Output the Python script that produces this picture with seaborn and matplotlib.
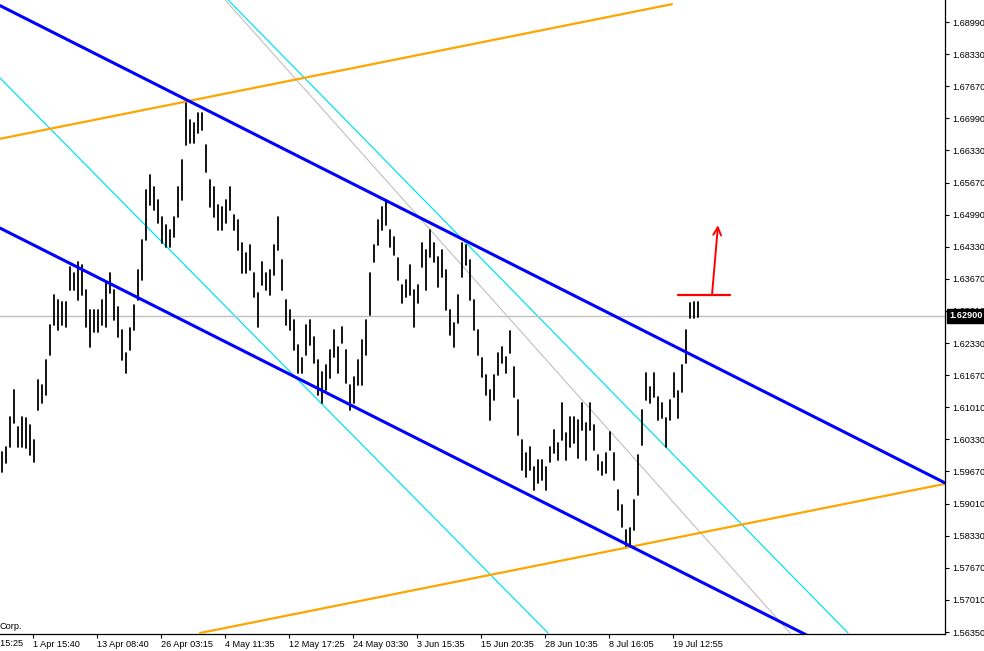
import numpy as np
import pandas as pd
import matplotlib
matplotlib.use("Agg")
import matplotlib.pyplot as plt
import seaborn as sns

# ---------------- data ----------------
highs = [1.6008, 1.6018, 1.6081, 1.6137, 1.6060, 1.6081, 1.6078, 1.6064, 1.6033, 1.6157,
         1.6147, 1.6199, 1.6271, 1.6333, 1.6323, 1.6319, 1.6319, 1.6391, 1.6379, 1.6402,
         1.6396, 1.6344, 1.6302, 1.6302, 1.6302, 1.6323, 1.6358, 1.6379, 1.6344, 1.6309,
         1.6261, 1.6213, 1.6265, 1.6313, 1.6385, 1.6447, 1.6551, 1.6582, 1.6557, 1.6530,
         1.6495, 1.6478, 1.6468, 1.6495, 1.6557, 1.6613, 1.6737, 1.6696, 1.6690, 1.6710,
         1.6710, 1.6644, 1.6572, 1.6557, 1.6520, 1.6516, 1.6530, 1.6557, 1.6499, 1.6489,
         1.6441, 1.6420, 1.6437, 1.6379, 1.6338, 1.6402, 1.6379, 1.6385, 1.6437, 1.6495,
         1.6406, 1.6323, 1.6302, 1.6282, 1.6230, 1.6203, 1.6271, 1.6282, 1.6246, 1.6199,
         1.6174, 1.6188, 1.6219, 1.6261, 1.6226, 1.6267, 1.6219, 1.6147, 1.6163, 1.6199,
         1.6240, 1.6282, 1.6379, 1.6437, 1.6489, 1.6516, 1.6530, 1.6468, 1.6454, 1.6410,
         1.6354, 1.6364, 1.6396, 1.6344, 1.6354, 1.6441, 1.6427, 1.6468, 1.6441, 1.6412,
         1.6427, 1.6385, 1.6302, 1.6275, 1.6333, 1.6441, 1.6437, 1.6406, 1.6323, 1.6261,
         1.6203, 1.6168, 1.6137, 1.6168, 1.6213, 1.6226, 1.6205, 1.6259, 1.6184, 1.6116,
         1.6033, 1.6006, 1.6018, 1.5977, 1.5991, 1.5991, 1.5977, 1.6018, 1.6054, 1.6027,
         1.6110, 1.6047, 1.6081, 1.6081, 1.6074, 1.6110, 1.6068, 1.6110, 1.6064, 1.6002,
         1.5987, 1.6006, 1.6050, 1.6006, 1.5929, 1.5898, 1.5846, 1.5851, 1.5909, 1.6002,
         1.6095, 1.6172, 1.6143, 1.6172, 1.6122, 1.6110, 1.6078, 1.6116, 1.6172, 1.6134,
         1.6188, 1.6261, 1.6317, 1.6319, 1.6319]
lows = [1.5967, 1.5985, 1.6018, 1.6068, 1.6018, 1.6018, 1.6016, 1.6002, 1.5987, 1.6095,
        1.6110, 1.6126, 1.6209, 1.6271, 1.6261, 1.6271, 1.6267, 1.6344, 1.6344, 1.6323,
        1.6333, 1.6267, 1.6226, 1.6257, 1.6257, 1.6271, 1.6267, 1.6338, 1.6282, 1.6246,
        1.6199, 1.6172, 1.6219, 1.6261, 1.6323, 1.6364, 1.6447, 1.6520, 1.6510, 1.6483,
        1.6441, 1.6433, 1.6433, 1.6454, 1.6495, 1.6530, 1.6644, 1.6648, 1.6648, 1.6669,
        1.6675, 1.6588, 1.6516, 1.6495, 1.6468, 1.6468, 1.6483, 1.6510, 1.6468, 1.6427,
        1.6379, 1.6379, 1.6385, 1.6329, 1.6267, 1.6354, 1.6344, 1.6333, 1.6375, 1.6427,
        1.6344, 1.6271, 1.6261, 1.6219, 1.6172, 1.6172, 1.6209, 1.6230, 1.6192, 1.6126,
        1.6110, 1.6137, 1.6161, 1.6205, 1.6172, 1.6234, 1.6151, 1.6095, 1.6110, 1.6147,
        1.6147, 1.6209, 1.6292, 1.6402, 1.6437, 1.6468, 1.6478, 1.6433, 1.6416, 1.6364,
        1.6317, 1.6329, 1.6333, 1.6267, 1.6317, 1.6391, 1.6344, 1.6412, 1.6402, 1.6350,
        1.6371, 1.6302, 1.6250, 1.6226, 1.6275, 1.6371, 1.6396, 1.6323, 1.6261, 1.6209,
        1.6163, 1.6126, 1.6074, 1.6116, 1.6168, 1.6192, 1.6172, 1.6213, 1.6122, 1.6043,
        1.5971, 1.5956, 1.5971, 1.5929, 1.5944, 1.5950, 1.5929, 1.5987, 1.6006, 1.5991,
        1.6033, 1.5991, 1.6018, 1.6027, 1.5996, 1.6054, 1.5991, 1.6054, 1.6012, 1.5971,
        1.5960, 1.5964, 1.6012, 1.5950, 1.5888, 1.5853, 1.5811, 1.5815, 1.5846, 1.5919,
        1.6022, 1.6116, 1.6110, 1.6122, 1.6074, 1.6078, 1.6018, 1.6074, 1.6122, 1.6078,
        1.6133, 1.6192, 1.6285, 1.6285, 1.6288]

current_price = 1.62900
current_label = "1.62900"

y_tick_labels = ["1.68990", "1.68330", "1.67670", "1.66990", "1.66330", "1.65670",
                 "1.64990", "1.64330", "1.63670", "1.63010", "1.62330", "1.61670",
                 "1.61010", "1.60330", "1.59670", "1.59010", "1.58330", "1.57670",
                 "1.57010", "1.56350"]
x_tick_labels = ["1 Apr 15:40", "13 Apr 08:40", "26 Apr 03:15", "4 May 11:35",
                 "12 May 17:25", "24 May 03:30", "3 Jun 15:35", "15 Jun 20:35",
                 "28 Jun 10:35", "8 Jul 16:05", "19 Jul 12:55"]
first_cut_label = "22 Mar 15:25"

# trend-line anchors: (bar index, price)
blue_upper = ([-0.5, 235.75], [1.6933, 1.5944])
blue_lower = ([-0.5, 235.75], [1.6472, 1.5484])
orange_upper = ([-0.5, 167.5], [1.6657, 1.6936])
orange_lower = ([49.5, 235.75], [1.5633, 1.5942])
cyan_a = ([-0.5, 136.5], [1.6783, 1.5633])
cyan_b = ([56.5, 211.5], [1.6945, 1.5633])
gray_diag = ([55.75, 197.0], [1.6945, 1.5633])
red_hline = ([169.0, 182.0], [1.6333, 1.6333])
red_arrow = ([177.5, 179.0], [1.6333, 1.6478])

# ---------------- figure ----------------
sns.set_theme(style="white")
plt.rcParams["font.family"] = ["Liberation Sans", "DejaVu Sans"]

W, H = 984, 651
fig = plt.figure(figsize=(W / 100, H / 100), dpi=100)
fig.patch.set_facecolor("white")
ax = fig.add_axes([0, 17 / H, 945 / W, 634 / H])
ax.set_facecolor("white")

n = len(highs)
bars = np.arange(n)
df = pd.DataFrame({
    "bar": np.concatenate([bars, bars]),
    "price": np.concatenate([highs, lows]),
})

# trend lines (behind bars)
ax.plot(*gray_diag, color="#C0C0C0", lw=0.8, zorder=1)
ax.plot(*cyan_a, color="#00E5F0", lw=0.9, zorder=1)
ax.plot(*cyan_b, color="#00E5F0", lw=0.9, zorder=1)
ax.axhline(current_price, color="#C0C0C0", lw=1.0, zorder=1)

sns.lineplot(data=df, x="bar", y="price", units="bar", estimator=None,
             color="black", lw=1.3, ax=ax, zorder=2, legend=False)

ax.plot(*orange_upper, color="#FFA500", lw=1.6, zorder=3)
ax.plot(*orange_lower, color="#FFA500", lw=1.6, zorder=3)
ax.plot(*blue_upper, color="#0000FF", lw=2.2, zorder=3)
ax.plot(*blue_lower, color="#0000FF", lw=2.2, zorder=3)

ax.plot(*red_hline, color="#FF0000", lw=1.6, zorder=4)
ax.annotate("", xy=(red_arrow[0][1], red_arrow[1][1]),
            xytext=(red_arrow[0][0], red_arrow[1][0]),
            arrowprops=dict(arrowstyle="->", color="#FF0000", lw=1.4,
                            mutation_scale=14, shrinkA=0, shrinkB=0), zorder=4)

# axes limits / ticks
ax.set_xlim(-0.5, 235.75)
ax.set_ylim(1.56309, 1.69446)
ax.set_xlabel("")
ax.set_ylabel("")

ax.yaxis.tick_right()
ax.set_yticks(np.linspace(1.68990, 1.56350, len(y_tick_labels)))
ax.set_yticklabels(y_tick_labels)
x_pos = [7.75 + 16 * k for k in range(len(x_tick_labels))]
ax.set_xticks(x_pos)
ax.set_xticklabels(x_tick_labels, ha="left")
ax.tick_params(axis="both", direction="out", length=3, width=0.8, color="black",
               labelsize=6.6, labelcolor="black")
ax.tick_params(axis="x", pad=1)
ax.tick_params(axis="y", pad=2)
ax.tick_params(bottom=True, right=True, left=False, top=False)

for s in ["top", "left"]:
    ax.spines[s].set_visible(False)
for s in ["right", "bottom"]:
    ax.spines[s].set_visible(True)
    ax.spines[s].set_color("black")
    ax.spines[s].set_linewidth(0.9)
ax.grid(False)

# partially cut first time label
ax.annotate(first_cut_label, xy=(-0.5 + 23 / 4, 0), xycoords=("data", "axes fraction"),
            xytext=(0, -3.8), textcoords="offset points", ha="right", va="top",
            fontsize=6.6, color="black", annotation_clip=False)

# copyright fragment
ax.text(0.0, 0.004, "Corp.", transform=ax.transAxes, fontsize=6.6, color="black",
        ha="left", va="bottom")

# current price label box on the right axis
ax.annotate(current_label, xy=(1.0, current_price), xycoords=("axes fraction", "data"),
            xytext=(3, 0), textcoords="offset points", ha="left", va="center",
            fontsize=6.6, color="white", fontweight="bold", annotation_clip=False,
            bbox=dict(boxstyle="square,pad=0.25", fc="black", ec="black"))

fig.savefig("out.png", dpi=100, facecolor="white")
